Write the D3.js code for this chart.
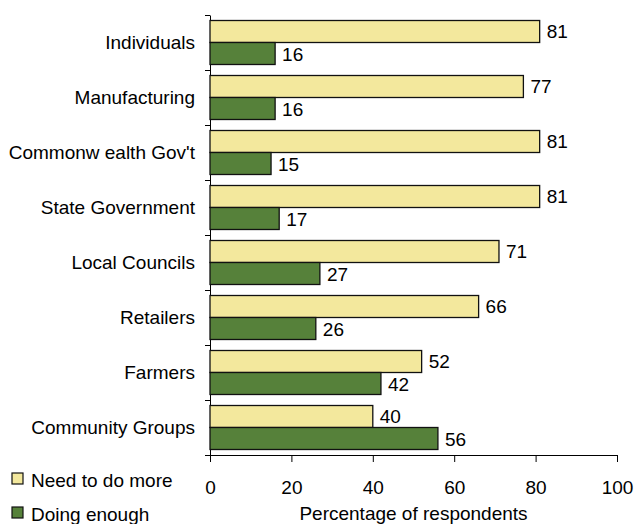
<!DOCTYPE html>
<html>
<head>
<meta charset="utf-8">
<script src="https://cdn.jsdelivr.net/npm/d3@7"></script>
<style>
  html, body { margin: 0; padding: 0; background: #fff; }
  svg { display: block; font-family: "Liberation Sans", Arial, sans-serif; }
</style>
</head>
<body>
<svg id="chart" width="635" height="524"></svg>
<script>
// Survey: who needs to do more vs. who is doing enough
const categories = [
  "Individuals",
  "Manufacturing",
  "Commonw ealth Gov't",
  "State Government",
  "Local Councils",
  "Retailers",
  "Farmers",
  "Community Groups"
];
const needMore = [81, 77, 81, 81, 71, 66, 52, 40];
const doingEnough = [16, 16, 15, 17, 27, 26, 42, 56];
const xTicks = [0, 20, 40, 60, 80, 100];
const seriesNames = ["Need to do more", "Doing enough"];
const seriesColors = ["#F3E89D", "#56813A"];

(function draw() {
  const svg = d3.select("#chart");
  const fontSize = 19;

  const plotLeft = 210, plotRight = 617, plotTop = 15, plotBottom = 455;

  const x = d3.scaleLinear().domain([0, 100]).range([plotLeft, plotRight]);
  const y = d3.scaleBand().domain(categories).range([plotTop, plotBottom])
    .paddingInner(0.2).paddingOuter(0.1);
  const half = y.bandwidth() / 2;

  // boundary ticks between categories on the vertical axis
  const yEdges = d3.scaleLinear().domain([0, categories.length]).range([plotTop, plotBottom]);
  svg.append("g")
    .attr("transform", `translate(${plotLeft},0)`)
    .call(d3.axisLeft(yEdges).tickValues(d3.range(categories.length + 1))
      .tickFormat("").tickSizeInner(5).tickSizeOuter(0))
    .call(g => g.selectAll("line, path").attr("stroke", "#000"));

  // category labels
  svg.append("g").selectAll("text")
    .data(categories)
    .join("text")
    .attr("x", 195)
    .attr("y", d => y(d) + y.bandwidth() / 2)
    .attr("dy", "0.36em")
    .attr("text-anchor", "end")
    .attr("font-size", fontSize)
    .attr("fill", "#000")
    .text(d => d);

  const series = [needMore, doingEnough];

  series.forEach((vals, si) => {
    const rows = categories.map((c, i) => ({ c, v: vals[i] }));
    svg.append("g").selectAll("rect")
      .data(rows)
      .join("rect")
      .attr("x", x(0))
      .attr("y", d => y(d.c) + si * half)
      .attr("width", d => x(d.v) - x(0))
      .attr("height", half)
      .attr("fill", seriesColors[si])
      .attr("stroke", "#111")
      .attr("stroke-width", 1.3);

    svg.append("g").selectAll("text")
      .data(rows)
      .join("text")
      .attr("x", d => x(d.v) + 7)
      .attr("y", d => y(d.c) + si * half + half / 2 + si * 1)
      .attr("dy", "0.36em")
      .attr("font-size", fontSize)
      .attr("fill", "#000")
      .text(d => d.v);
  });

  // horizontal axis
  const xAxis = svg.append("g")
    .attr("transform", `translate(0,${plotBottom})`)
    .call(d3.axisBottom(x).tickValues(xTicks).tickSizeInner(7).tickSizeOuter(0).tickPadding(19));
  xAxis.selectAll("line, path").attr("stroke", "#000");
  xAxis.selectAll("text")
    .attr("font-size", fontSize)
    .attr("font-family", "\"Liberation Sans\", Arial, sans-serif")
    .attr("fill", "#000");

  svg.append("text")
    .attr("x", (plotLeft + plotRight) / 2)
    .attr("y", 520)
    .attr("text-anchor", "middle")
    .attr("font-size", fontSize)
    .attr("fill", "#000")
    .text("Percentage of respondents");

  // legend
  const legend = svg.append("g").selectAll("g")
    .data(seriesNames)
    .join("g")
    .attr("transform", (d, i) => `translate(12,${473 + i * 34})`);
  legend.append("rect")
    .attr("width", 11).attr("height", 11)
    .attr("fill", (d, i) => seriesColors[i])
    .attr("stroke", "#111").attr("stroke-width", 1.2);
  legend.append("text")
    .attr("x", 19)
    .attr("y", 14)
    .attr("font-size", fontSize)
    .attr("fill", "#000")
    .text(d => d);
})();
</script>
</body>
</html>
